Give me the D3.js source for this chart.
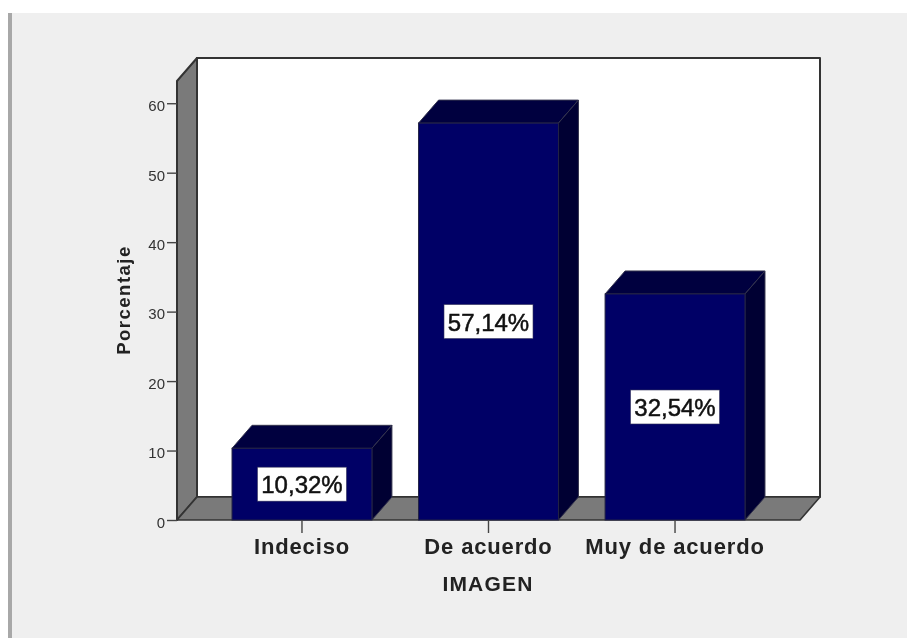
<!DOCTYPE html>
<html><head><meta charset="utf-8">
<script src="https://cdn.jsdelivr.net/npm/d3@7"></script>
<style>html,body{margin:0;padding:0;background:#fff}svg{display:block;filter:blur(0.7px)}text{font-family:"Liberation Sans",Arial,sans-serif}</style>
</head><body><script>
const categories = ["Indeciso", "De acuerdo", "Muy de acuerdo"];
const percentages = [10.32, 57.14, 32.54];
const valueLabels = ["10,32%", "57,14%", "32,54%"];
const yTicks = [0, 10, 20, 30, 40, 50, 60];
const yMax = 63.2;
const yTitle = "Porcentaje";
const xTitle = "IMAGEN";

const W = 907, H = 638, dx = 20, dy = 23;
const svg = d3.select("body").append("svg").attr("width", W).attr("height", H);
svg.append("rect").attr("x", 8).attr("y", 13).attr("width", W - 8).attr("height", H - 13).attr("fill", "#efefef");
svg.append("rect").attr("x", 8).attr("y", 13).attr("width", 4).attr("height", H - 13).attr("fill", "#a8a8a8");

const x = d3.scaleBand().domain(categories).range([177, 800]).paddingInner(0.25).paddingOuter(0.295);
const y = d3.scaleLinear().domain([0, yMax]).range([520, 81]);
const x0 = x.range()[0], x1 = x.range()[1], y0 = y(0), yT = y(yMax);
const line = "#333";
const poly = (pts, fill, stroke, sw) => svg.append("polygon").attr("points", pts.map(p => p.join(",")).join(" ")).attr("fill", fill).attr("stroke", stroke).attr("stroke-width", sw).attr("stroke-linejoin", "round");

// back wall, side wall, floor
poly([[x0 + dx, yT - dy], [x1 + dx, yT - dy], [x1 + dx, y0 - dy], [x0 + dx, y0 - dy]], "#fff", line, 2);
poly([[x0, yT], [x0 + dx, yT - dy], [x0 + dx, y0 - dy], [x0, y0]], "#7a7a7a", line, 2);
poly([[x0, y0], [x0 + dx, y0 - dy], [x1 + dx, y0 - dy], [x1, y0]], "#7a7a7a", line, 1.6);

// bars
const bw = x.bandwidth();
categories.forEach((c, i) => {
  const l = x(c), r = l + bw, t = y(percentages[i]);
  poly([[l, t], [l + dx, t - dy], [r + dx, t - dy], [r, t]], "#00003f", "#33334d", 1);
  poly([[r, t], [r + dx, t - dy], [r + dx, y0 - dy], [r, y0]], "#000033", "#33334d", 1);
  svg.append("rect").attr("x", l).attr("y", t).attr("width", bw).attr("height", y0 - t).attr("fill", "#000066").attr("stroke", "#222244").attr("stroke-width", 1);
});

// value labels
categories.forEach((c, i) => {
  const cx = x(c) + bw / 2, cy = (y(percentages[i]) + y0) / 2;
  svg.append("rect").attr("x", cx - 44.5).attr("y", cy - 17).attr("width", 89).attr("height", 34).attr("fill", "#fff").attr("stroke", "#33335a").attr("stroke-width", 0.6);
  svg.append("text").attr("x", cx).attr("y", cy + 9).attr("text-anchor", "middle").attr("font-size", 24).attr("fill", "#111").attr("stroke", "#111").attr("stroke-width", 0.5).text(valueLabels[i]);
});

// axes
const yAxis = d3.axisLeft(y).tickValues(yTicks).tickSize(10).tickPadding(2).tickFormat(d3.format("d"));
const gy = svg.append("g").attr("transform", `translate(${x0},0)`).call(yAxis);
gy.select(".domain").remove();
gy.selectAll("line").attr("stroke", "#444").attr("stroke-width", 1.4);
gy.selectAll("text").attr("font-size", 15).attr("fill", "#333").attr("dy", "0.62em").attr("y", -2);

const xAxis = d3.axisBottom(x).tickSize(13).tickPadding(5);
const gx = svg.append("g").attr("transform", `translate(0,${y0})`).call(xAxis);
gx.select(".domain").remove();
gx.selectAll("line").attr("stroke", "#444").attr("stroke-width", 1.4);
gx.selectAll("text").attr("font-size", 22).attr("font-weight", "bold").attr("letter-spacing", 0.85).attr("fill", "#222");

svg.append("text").attr("x", 488).attr("y", 591).attr("text-anchor", "middle").attr("font-size", 21).attr("letter-spacing", 1.2).attr("font-weight", "bold").attr("fill", "#222").text(xTitle);
svg.append("text").attr("transform", "translate(130,300) rotate(-90)").attr("text-anchor", "middle").attr("font-size", 18.5).attr("letter-spacing", 1.5).attr("font-weight", "bold").attr("fill", "#222").text(yTitle);
</script></body></html>
